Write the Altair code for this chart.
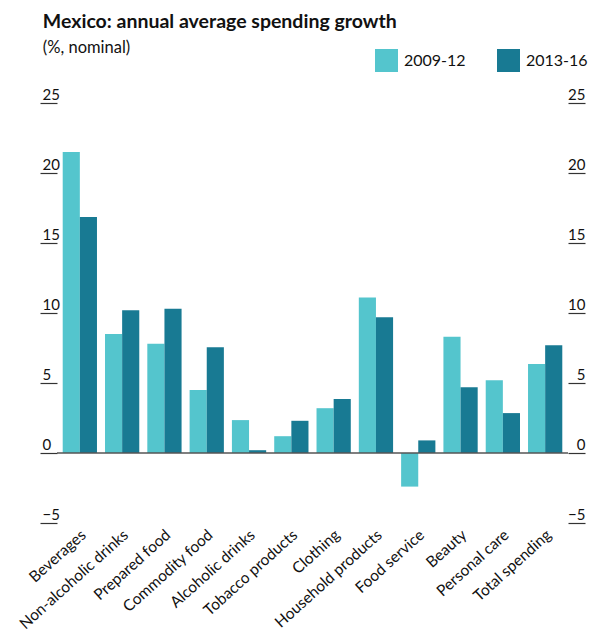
import altair as alt
import pandas as pd

categories = ["Beverages", "Non-alcoholic drinks", "Prepared food", "Commodity food",
              "Alcoholic drinks", "Tobacco products", "Clothing", "Household products",
              "Food service", "Beauty", "Personal care", "Total spending"]
periods = ["2009-12", "2013-16"]
growth_2009_12 = [21.5, 8.5, 7.8, 4.5, 2.35, 1.2, 3.2, 11.1, -2.4, 8.3, 5.2, 6.35]
growth_2013_16 = [16.85, 10.2, 10.3, 7.55, 0.2, 2.3, 3.85, 9.7, 0.9, 4.7, 2.85, 7.7]
y_ticks = [-5, 0, 5, 10, 15, 20, 25]
colors = ["#54c5cd", "#187a93"]

rows = []
for c, a, b in zip(categories, growth_2009_12, growth_2013_16):
    rows.append({"category": c, "period": periods[0], "value": a})
    rows.append({"category": c, "period": periods[1], "value": b})
df = pd.DataFrame(rows)
zero_df = pd.DataFrame({"zero": [0]})

FONT = "Lato"
yscale = alt.Scale(domain=[-5, 25], nice=False, zero=False)

bars = alt.Chart(df).mark_bar().encode(
    x=alt.X("category:N", sort=categories,
            scale=alt.Scale(paddingInner=0.19, paddingOuter=0.135),
            axis=alt.Axis(orient="bottom", domain=False, ticks=False, title=None,
                          labelAngle=-42, labelAlign="right", labelBaseline="top",
                          labelPadding=4, labelOffset=-1, labelFontSize=15.5,
                          labelFont=FONT, labelColor="#111", labelLimit=300)),
    xOffset=alt.XOffset("period:N", sort=periods),
    y=alt.Y("value:Q", scale=yscale,
            axis=alt.Axis(orient="left", values=y_ticks, domain=False, grid=False,
                          ticks=True, tickSize=17, tickColor="#333", tickWidth=1.2,
                          labelAlign="left", labelBaseline="alphabetic",
                          labelPadding=-2, labelOffset=-4, labelFontSize=15,
                          labelFont=FONT, labelColor="#111", title=None)),
    color=alt.Color("period:N", sort=periods,
                    scale=alt.Scale(domain=periods, range=colors),
                    legend=alt.Legend(orient="none", legendX=318, legendY=-54,
                                      direction="horizontal", title=None,
                                      symbolType="square", symbolSize=529,
                                      symbolStrokeWidth=0, labelFontSize=16,
                                      labelFont=FONT, labelColor="#111",
                                      labelOffset=6, columnPadding=31)),
)

zero_rule = alt.Chart(zero_df).mark_rule(color="#555", strokeWidth=1.5).encode(
    y=alt.Y("zero:Q", scale=yscale,
            axis=alt.Axis(orient="right", values=y_ticks, domain=False, grid=False,
                          ticks=True, tickSize=17, tickColor="#333", tickWidth=1.2,
                          labelAlign="right", labelBaseline="alphabetic",
                          labelPadding=0, labelOffset=-4, labelFontSize=15,
                          labelFont=FONT, labelColor="#111", title=None))
)

chart = alt.layer(bars, zero_rule).resolve_scale(y="independent").properties(
    width=511,
    height=420,
    autosize=alt.AutoSizeParams(type="none"),
    padding={"left": 49, "top": 95, "right": 25, "bottom": 114},
    title=alt.TitleParams(
        text="Mexico: annual average spending growth",
        subtitle="(%, nominal)",
        anchor="start", dx=26, font=FONT, fontSize=19.5, fontWeight="bold",
        color="#111", subtitleFont=FONT, subtitleFontSize=16.5,
        subtitleColor="#111", subtitlePadding=7, offset=-8,
    ),
).configure_view(stroke=None)

chart.save("out.html", embed_options={"renderer": "svg", "actions": False})
